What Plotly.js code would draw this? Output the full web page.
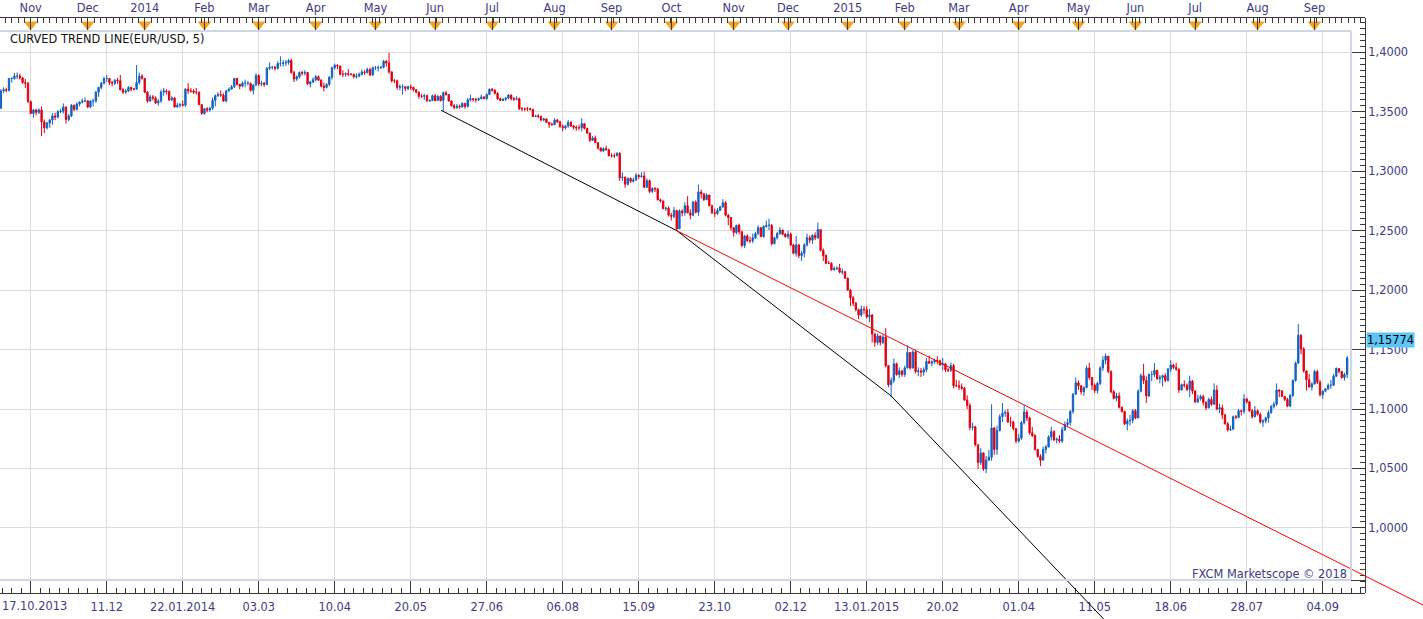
<!DOCTYPE html>
<html><head><meta charset="utf-8">
<script src="https://cdn.plot.ly/plotly-3.0.1.min.js"></script>
<style>html,body{margin:0;padding:0;background:#fff;}#chart{width:1423px;height:619px;}</style>
</head><body><div id="chart"></div>
<script>
// ---------------- DATA (daily EUR/USD, prices in pips above 1.0000: 3675 = 1.3675) -------------
const openP = [
 3530,3675,3685,3680,3780,3780,3800,3800,3785,3745,3740,
 3585,3485,3515,3495,3515,3415,3365,3405,3430,3465,3455,3500,3505,3540,3435,3465,3555,3520,3565,3580,3590,
 3590,3540,3590,3590,3665,3705,3740,3780,3780,3745,3740,3765,3760,3685,3665,3675,3705,3690,3690,3745,3800,
 3780,3665,3590,3625,3615,3575,3590,3665,3675,3670,3600,3615,3540,3555,3560,3555,3690,3675,3675,3665,3665,3560,
 3485,3525,3515,3530,3595,3635,3645,3640,3590,3675,3690,3710,3780,3730,3715,3740,3740,3740,3680,3725,
 3805,3735,3740,3730,3865,3875,3875,3865,3905,3905,3910,3915,3930,3830,3775,3795,3830,3825,3830,3735,3750,
 3770,3795,3765,3715,3705,3730,3790,3870,3890,3885,3815,3815,3820,3815,3815,3795,3800,3815,3835,3830,3855,3810,
 3870,3870,3870,3875,3925,3910,3835,3760,3760,3705,3710,3710,3695,3710,3705,3685,3665,3630,3630,3635,3590,3595,
 3635,3595,3630,3595,3660,3645,3590,3550,3535,3545,3540,3570,3545,3600,3610,3605,3600,3610,3625,3610,3645,
 3690,3680,3655,3610,3595,3605,3615,3640,3610,3605,3610,3525,3525,3525,3525,3520,3460,3465,3460,3430,3440,3410,3395,
 3390,3430,3415,3375,3365,3380,3410,3380,3370,3365,3365,3400,3360,3320,3260,3280,3240,3195,3170,3190,3180,
 3130,3130,3130,3150,2945,2950,2890,2940,2915,2925,2965,2955,2960,2865,2920,2830,2855,2850,2760,2750,2685,2690,
 2630,2620,2670,2515,2665,2650,2710,2650,2630,2740,2655,2825,2810,2760,2800,2710,2650,2645,2670,2700,2735,2630,2610,
 2525,2485,2545,2490,2375,2455,2415,2415,2440,2475,2525,2450,2535,2545,2545,2390,2440,2475,2505,2470,
 2450,2470,2380,2310,2380,2290,2310,2380,2440,2420,2460,2440,2510,2335,2290,2225,2225,2170,2180,2185,2150,2155,
 2100,2000,1935,1890,1835,1790,1840,1835,1775,1790,1630,1560,1615,1560,1605,1365,1205,1240,1380,1290,1320,
 1290,1345,1475,1345,1480,1315,1320,1310,1330,1400,1385,1395,1410,1405,1370,1380,1330,1325,1365,1195,
 1195,1185,1175,1075,1030,845,850,700,550,630,495,570,595,840,660,820,935,965,970,890,890,835,
 730,755,885,975,925,800,775,660,600,570,660,680,765,810,740,745,730,825,870,885,980,1125,
 1220,1195,1145,1180,1345,1265,1200,1155,1215,1345,1410,1445,1315,1145,1090,1110,1015,980,875,900,905,
 985,925,1150,1280,1240,1110,1290,1290,1325,1255,1265,1280,1240,1335,1370,1350,1335,1160,1205,1200,1165,1235,
 1150,1060,1085,1105,1055,1010,1080,1040,1160,1000,1010,950,875,825,830,935,930,985,980,1085,1060,985,935,
 985,955,890,900,925,970,1020,1040,1160,1150,1105,1080,1025,1115,1240,1385,1620,1505,1320,1245,1185,
 1210,1315,1225,1120,1150,1170,1200,1200,1275,1340,1315,1265,1290
];
const highP = [
 3690,3705,3700,3785,3790,3825,3830,3820,3790,3775,3750,
 3595,3525,3525,3530,3545,3435,3415,3440,3490,3490,3515,3525,3570,3545,3480,3565,3560,3580,3590,3610,3620,
 3600,3595,3610,3675,3710,3750,3795,3810,3785,3760,3775,3785,3810,3700,3690,3715,3705,3700,3893,3830,3815,
 3785,3675,3645,3640,3630,3605,3685,3700,3690,3680,3630,3625,3575,3575,3595,3700,3740,3700,3690,3700,3670,3565,
 3530,3540,3540,3620,3645,3665,3680,3655,3685,3705,3725,3785,3785,3735,3755,3770,3760,3745,3730,3825,
 3815,3760,3750,3875,3915,3885,3885,3925,3966,3935,3935,3945,3945,3845,3805,3840,3845,3850,3835,3760,3790,
 3810,3805,3775,3745,3740,3800,3880,3905,3900,3885,3850,3830,3860,3825,3820,3825,3830,3855,3850,3870,3870,3880,
 3885,3890,3885,3935,3935,3995,3840,3775,3770,3730,3730,3710,3720,3730,3710,3690,3670,3650,3650,3645,3605,3645,
 3650,3640,3640,3670,3675,3645,3595,3565,3565,3560,3580,3575,3615,3645,3615,3615,3620,3645,3630,3655,3695,
 3700,3690,3665,3620,3615,3625,3650,3645,3625,3630,3620,3540,3535,3540,3535,3525,3475,3480,3470,3450,3445,3415,3410,
 3445,3440,3425,3395,3390,3430,3420,3390,3385,3390,3445,3405,3365,3325,3295,3300,3245,3200,3200,3215,3190,
 3150,3150,3160,3160,2990,2955,2945,2945,2945,2985,2975,2990,2995,2940,2930,2865,2865,2860,2770,2750,2700,2705,
 2650,2700,2675,2680,2680,2740,2790,2680,2750,2755,2887,2845,2815,2815,2800,2720,2685,2690,2710,2765,2750,2640,2615,
 2530,2550,2560,2500,2465,2470,2450,2475,2490,2545,2530,2545,2585,2600,2555,2450,2490,2530,2510,2480,
 2500,2485,2390,2455,2390,2330,2395,2475,2460,2470,2485,2570,2510,2350,2300,2245,2235,2200,2200,2220,2180,2160,
 2105,2010,1950,1900,1845,1870,1865,1865,1840,1800,1640,1635,1615,1625,1680,1365,1265,1425,1390,1350,1330,
 1365,1535,1480,1495,1500,1350,1345,1350,1430,1450,1410,1425,1445,1415,1430,1385,1345,1390,1380,1245,
 1240,1215,1185,1115,1050,885,860,700,670,635,605,655,1040,850,860,955,1050,990,1000,935,900,840,
 790,900,1035,990,935,850,790,665,620,685,700,780,850,820,760,780,850,895,920,990,1135,1265,
 1240,1200,1190,1365,1390,1270,1215,1230,1360,1445,1467,1445,1325,1160,1135,1140,1020,985,920,950,1000,
 1000,1165,1300,1380,1275,1300,1320,1385,1330,1285,1290,1300,1345,1410,1380,1390,1340,1215,1240,1215,1280,1245,
 1160,1120,1120,1120,1065,1095,1105,1215,1200,1045,1035,960,890,860,945,950,1000,995,1125,1095,1070,1000,1025,
 995,970,915,935,990,1035,1060,1215,1165,1160,1110,1095,1125,1250,1400,1714,1630,1520,1325,1295,1225,
 1330,1330,1245,1155,1175,1215,1245,1295,1350,1345,1320,1305,1445
];
const lowP = [
 3525,3660,3665,3670,3745,3770,3775,3770,3735,3700,3575,
 3480,3450,3470,3480,3295,3320,3350,3365,3390,3430,3445,3490,3485,3400,3420,3455,3505,3510,3545,3570,3580,
 3530,3530,3545,3575,3625,3690,3730,3750,3725,3715,3725,3735,3680,3650,3650,3665,3670,3680,3685,3730,3770,
 3655,3575,3585,3595,3565,3550,3575,3635,3645,3590,3590,3535,3535,3535,3545,3540,3650,3660,3650,3645,3555,3475,
 3475,3495,3500,3515,3545,3625,3625,3585,3580,3670,3690,3700,3720,3690,3705,3705,3720,3670,3645,3715,
 3715,3715,3710,3725,3850,3855,3845,3855,3880,3880,3885,3895,3820,3750,3760,3780,3805,3805,3725,3705,3740,
 3755,3760,3705,3670,3695,3715,3770,3855,3860,3805,3790,3795,3800,3805,3780,3780,3790,3805,3810,3820,3800,3800,
 3850,3840,3860,3865,3880,3820,3745,3740,3685,3680,3645,3675,3680,3685,3670,3655,3610,3615,3600,3585,3585,3590,
 3585,3590,3585,3503,3635,3585,3545,3520,3525,3525,3535,3525,3535,3585,3585,3580,3590,3605,3605,3600,3640,
 3670,3645,3600,3590,3590,3590,3605,3595,3590,3595,3515,3505,3505,3505,3510,3455,3455,3445,3420,3420,3405,3365,3385,
 3390,3405,3365,3335,3350,3365,3370,3350,3340,3345,3335,3350,3315,3245,3255,3240,3180,3165,3160,3175,3125,
 3115,3110,3125,2920,2920,2860,2880,2900,2905,2920,2935,2945,2860,2860,2815,2815,2825,2755,2735,2680,2665,2620,
 2585,2605,2500,2515,2620,2625,2645,2595,2620,2645,2625,2770,2750,2760,2705,2640,2615,2630,2665,2690,2620,2545,2500,
 2450,2470,2470,2360,2355,2405,2395,2395,2430,2465,2445,2440,2525,2505,2375,2385,2425,2465,2460,2440,
 2430,2370,2300,2280,2270,2245,2275,2365,2395,2390,2420,2430,2325,2245,2220,2220,2165,2165,2170,2140,2130,2095,
 1995,1865,1865,1820,1755,1775,1800,1760,1730,1560,1525,1540,1535,1545,1350,1185,1098,1220,1280,1260,1270,
 1270,1340,1330,1340,1300,1275,1270,1280,1310,1380,1360,1380,1375,1365,1325,1310,1310,1310,1175,1185,
 1160,1160,1070,1000,820,820,685,495,530,480,460,565,565,615,615,810,890,935,885,850,820,710,
 715,740,870,900,785,765,650,590,520,570,625,680,735,730,710,715,715,815,850,860,960,1120,
 1160,1120,1110,1175,1245,1160,1135,1130,1200,1320,1375,1300,1130,1080,1065,1005,970,865,820,860,880,
 915,920,1140,1210,1050,1100,1235,1270,1245,1215,1190,1225,1230,1310,1335,1320,1135,1155,1180,1150,1100,1125,
 1050,1050,1070,1030,990,1005,1025,1035,990,965,915,870,810,815,825,915,920,945,960,1045,975,920,930,
 945,880,850,880,885,960,1005,1025,1100,1100,1065,1015,1015,1100,1230,1385,1460,1305,1155,1180,1155,
 1205,1210,1105,1085,1140,1160,1170,1195,1270,1300,1255,1240,1260
];
const closeP = [
 3675,3685,3680,3780,3780,3800,3800,3785,3745,3740,3585,
 3485,3515,3495,3515,3415,3365,3405,3430,3465,3455,3500,3505,3540,3435,3465,3555,3520,3565,3580,3590,3590,
 3540,3590,3590,3665,3705,3740,3780,3780,3745,3740,3765,3760,3685,3665,3675,3705,3690,3690,3745,3800,3780,
 3665,3590,3625,3615,3575,3590,3665,3675,3670,3600,3615,3540,3555,3560,3555,3690,3675,3675,3665,3665,3560,3485,
 3525,3515,3530,3595,3635,3645,3640,3590,3675,3690,3710,3780,3730,3715,3740,3740,3740,3680,3725,3805,
 3735,3740,3730,3865,3875,3875,3865,3905,3905,3910,3915,3930,3830,3775,3795,3830,3825,3830,3735,3750,3770,
 3795,3765,3715,3705,3730,3790,3870,3890,3885,3815,3815,3820,3815,3815,3795,3800,3815,3835,3830,3855,3810,3870,
 3870,3870,3875,3925,3910,3835,3760,3760,3705,3710,3710,3695,3710,3705,3685,3665,3630,3630,3635,3590,3595,3635,
 3595,3630,3595,3660,3645,3590,3550,3535,3545,3540,3570,3545,3600,3610,3605,3600,3610,3625,3610,3645,3690,
 3680,3655,3610,3595,3605,3615,3640,3610,3605,3610,3525,3525,3525,3525,3520,3460,3465,3460,3430,3440,3410,3395,3390,
 3430,3415,3375,3365,3380,3410,3380,3370,3365,3365,3400,3360,3320,3260,3280,3240,3195,3170,3190,3180,3130,
 3130,3130,3150,2945,2950,2890,2940,2915,2925,2965,2955,2960,2865,2920,2830,2855,2850,2760,2750,2685,2690,2630,
 2620,2670,2515,2665,2650,2710,2650,2630,2740,2655,2825,2810,2760,2800,2710,2650,2645,2670,2700,2735,2630,2610,2525,
 2485,2545,2490,2375,2455,2415,2415,2440,2475,2525,2450,2535,2545,2545,2390,2440,2475,2505,2470,2450,
 2470,2380,2310,2380,2290,2310,2380,2440,2420,2460,2440,2510,2335,2290,2225,2225,2170,2180,2185,2150,2155,2100,
 2000,1935,1890,1835,1790,1840,1835,1775,1790,1630,1560,1615,1560,1605,1365,1205,1240,1380,1290,1320,1290,
 1345,1475,1345,1480,1315,1320,1310,1330,1400,1385,1395,1410,1405,1370,1380,1330,1325,1365,1195,1195,
 1185,1175,1075,1030,845,850,700,550,630,495,570,595,840,660,820,935,965,970,890,890,835,730,
 755,885,975,925,800,775,660,600,570,660,680,765,810,740,745,730,825,870,885,980,1125,1220,
 1195,1145,1180,1345,1265,1200,1155,1215,1345,1410,1445,1315,1145,1090,1110,1015,980,875,900,905,985,
 925,1150,1280,1240,1110,1290,1290,1325,1255,1265,1280,1240,1335,1370,1350,1335,1160,1205,1200,1165,1235,1150,
 1060,1085,1105,1055,1010,1080,1040,1160,1000,1010,950,875,825,830,935,930,985,980,1085,1060,985,935,985,
 955,890,900,925,970,1020,1040,1160,1150,1105,1080,1025,1115,1240,1385,1620,1505,1320,1245,1185,1210,
 1315,1225,1120,1150,1170,1200,1200,1275,1340,1315,1265,1290,1430
];
// first bar date; trading days skip weekends and these holidays
const START_DATE = '2013-10-17';
const HOLIDAYS = ['12-25', '01-01'];
// bottom axis labels (grid every 28 bars); the first grid label shows the chart's first date
const gridDates = ['2013-11-01','2013-12-11','2014-01-22','2014-03-03','2014-04-10','2014-05-20','2014-06-27','2014-08-06','2014-09-15','2014-10-23','2014-12-02','2015-01-13','2015-02-20','2015-04-01','2015-05-11','2015-06-18','2015-07-28','2015-09-04'];
const gridText  = ['17.10.2013','11.12','22.01.2014','03.03','10.04','20.05','27.06','06.08','15.09','23.10','02.12','13.01.2015','20.02','01.04','11.05','18.06','28.07','04.09'];
const monthNames = ['Jan','Feb','Mar','Apr','May','Jun','Jul','Aug','Sep','Oct','Nov','Dec'];
const priceTicks = [1.00,1.05,1.10,1.15,1.20,1.25,1.30,1.35,1.40];
// curved trend line (bar index, price) and red trend line
const blackTrendBar   = [162.2, 249, 328, 412];
const blackTrendPrice = [1.3512, 1.2500, 1.1110, 0.9097];
const redTrendBar     = [249, 530];
const redTrendPrice   = [1.2500, 0.9282];
const lastPrice = 1.15774;
const titleText = 'CURVED TREND LINE(EUR/USD, 5)';
const creditText = 'FXCM Marketscope \u00a9 2018';

// ---------------- BUILD -------------
const toPrice = v => 1 + v / 10000;
const N = closeP.length;
const dates = [];
{ let d = new Date(START_DATE + 'T00:00:00Z');
  while (dates.length < N) {
    const dow = d.getUTCDay(), iso = d.toISOString().slice(0, 10);
    if (dow !== 0 && dow !== 6 && !HOLIDAYS.includes(iso.slice(5))) dates.push(iso);
    d.setUTCDate(d.getUTCDate() + 1);
  } }
const idx = dates.map((_, i) => i);
const monthIdx = [], monthText = [];
dates.forEach((s, i) => {
  if (i > 0 && s.slice(5, 7) !== dates[i - 1].slice(5, 7)) {
    const m = +s.slice(5, 7);
    monthIdx.push(i);
    monthText.push(m === 1 ? s.slice(0, 4) : monthNames[m - 1]);
  }
});
const gridIdx = gridDates.map(s => dates.indexOf(s));
// the first label is drawn left-aligned at the chart's left edge (as in the reference)
const axisText = gridText.map((t, i) => i === 0 ? '' : t);

// geometry (pixels of the 1423x619 picture)
const W = 1423, H = 619;
const PX_PER_BAR = 2.7143, BAR0_PX = 0.86, PX_PER_UNIT = 1189, Y140_PX = 52.3;
const PLOT_R = 1351, PLOT_T = 31, PLOT_B = 580, AXIS_R = 1365, TOP_T = 18, BOT_T = 581, BOT_B = 593;
const barAt = px => (px - BAR0_PX) / PX_PER_BAR;
const priceAt = py => 1.40 - (py - Y140_PX) / PX_PER_UNIT;
const fx = px => px / W, fy = py => (H - py) / H;

const BLUE = '#1262c4', RED = '#e00010', NAVY = '#3e3a86', AXIS = '#3a3a3a', GRID = '#dedede', PANEL = '#cdd6e2';
const FONT = '"DejaVu Sans", Verdana, sans-serif';
const FS = 11.4;

const traces = [
  { type: 'candlestick', x: idx, open: openP.map(toPrice), high: highP.map(toPrice), low: lowP.map(toPrice), close: closeP.map(toPrice),
    xaxis: 'x', yaxis: 'y', whiskerwidth: 0, hoverinfo: 'skip',
    increasing: { line: { color: BLUE, width: 1 }, fillcolor: BLUE },
    decreasing: { line: { color: RED, width: 1 }, fillcolor: RED } },
  { type: 'scatter', mode: 'markers', x: monthIdx, y: monthIdx.map(() => 0.5), xaxis: 'x2', yaxis: 'y3', cliponaxis: false,
    marker: { symbol: 'triangle-down', size: 12, color: '#f7a21c', line: { width: 0 } }, hoverinfo: 'skip' },
  { type: 'scatter', mode: 'markers', x: [null], y: [null], xaxis: 'x3', yaxis: 'y5', hoverinfo: 'skip' },
  { type: 'scatter', mode: 'markers', x: [null], y: [null], xaxis: 'x3', yaxis: 'y2', hoverinfo: 'skip' },
  { type: 'scatter', mode: 'lines', x: blackTrendBar, y: blackTrendPrice, xaxis: 'x4', yaxis: 'y4',
    line: { color: '#000000', width: 1 }, hoverinfo: 'skip' },
  { type: 'scatter', mode: 'lines', x: redTrendBar, y: redTrendPrice, xaxis: 'x4', yaxis: 'y4',
    line: { color: '#ff0000', width: 1 }, hoverinfo: 'skip' }
];

const bandRange = [barAt(0), barAt(AXIS_R)];
const panelLine = { color: PANEL, width: 2 };
const layout = {
  width: W, height: H, margin: { l: 0, r: 0, t: 0, b: 0, pad: 0 },
  paper_bgcolor: '#ffffff', plot_bgcolor: 'rgba(0,0,0,0)', showlegend: false, separators: ', ',
  font: { family: FONT, size: FS, color: NAVY },
  xaxis: { domain: [0, fx(PLOT_R)], range: [barAt(0), barAt(PLOT_R)], anchor: 'y', tickmode: 'array', tickvals: gridIdx,
    showgrid: true, gridcolor: GRID, gridwidth: 1, showticklabels: false, ticks: '', zeroline: false, showline: false,
    rangeslider: { visible: false }, fixedrange: true },
  yaxis: { domain: [fy(PLOT_B), fy(PLOT_T)], range: [priceAt(PLOT_B), priceAt(PLOT_T)], anchor: 'x', tickmode: 'array', tickvals: priceTicks,
    showgrid: true, gridcolor: GRID, gridwidth: 1, showticklabels: false, ticks: '', zeroline: false, showline: false, fixedrange: true },
  xaxis2: { domain: [0, fx(AXIS_R)], range: bandRange, anchor: 'y3', side: 'top', showline: true, linecolor: AXIS, linewidth: 1,
    ticks: 'inside', ticklen: 13, tickcolor: AXIS, tickwidth: 1, tickmode: 'array', tickvals: monthIdx, ticktext: monthText,
    tickfont: { family: FONT, size: FS, color: NAVY }, showgrid: false, zeroline: false, ticklabeloverflow: 'allow',
    minor: { ticks: 'inside', ticklen: 5, tickcolor: AXIS, tickmode: 'linear', tick0: monthIdx[0], dtick: 21 / 9, showgrid: false } },
  yaxis3: { domain: [fy(PLOT_T), fy(TOP_T)], range: [0, 1], anchor: 'x2', visible: false, fixedrange: true },
  xaxis3: { domain: [0, fx(AXIS_R)], range: bandRange, anchor: 'y5', side: 'bottom', showline: true, mirror: true, linecolor: AXIS, linewidth: 1,
    ticks: 'inside', ticklen: 12, tickcolor: AXIS, tickwidth: 1, tickmode: 'array', tickvals: gridIdx, ticktext: axisText,
    tickfont: { family: FONT, size: FS, color: NAVY }, showgrid: false, zeroline: false, ticklabeloverflow: 'allow', ticklabelstandoff: 3,
    minor: { ticks: 'inside', ticklen: 5, tickcolor: AXIS, tickmode: 'linear', tick0: gridIdx[0], dtick: 3.5, showgrid: false } },
  yaxis5: { domain: [fy(BOT_B), fy(BOT_T)], range: [0, 1], anchor: 'x3', visible: false, fixedrange: true },
  yaxis2: { domain: [fy(BOT_B), fy(TOP_T)], range: [priceAt(BOT_B), priceAt(TOP_T)], anchor: 'free', position: fx(AXIS_R), side: 'right',
    showline: true, linecolor: AXIS, linewidth: 1, ticks: 'inside', ticklen: 14, tickcolor: AXIS, tickwidth: 1,
    tickmode: 'array', tickvals: priceTicks, tickformat: '.4f', tickfont: { family: FONT, size: FS, color: NAVY },
    showgrid: false, zeroline: false, ticklabeloverflow: 'allow',
    minor: { ticks: 'inside', ticklen: 5, tickcolor: AXIS, tickmode: 'linear', tick0: 0.95, dtick: 0.005, showgrid: false } },
  xaxis4: { domain: [0, 1], range: [barAt(0), barAt(W)], anchor: 'y4', visible: false, fixedrange: true },
  yaxis4: { domain: [0, 1], range: [priceAt(H), priceAt(0)], anchor: 'x4', visible: false, fixedrange: true },
  shapes: [
    { type: 'line', xref: 'paper', yref: 'paper', x0: 0, x1: fx(PLOT_R), y0: fy(PLOT_T), y1: fy(PLOT_T), line: panelLine },
    { type: 'line', xref: 'paper', yref: 'paper', x0: fx(PLOT_R), x1: fx(PLOT_R), y0: fy(PLOT_B), y1: fy(PLOT_T), line: panelLine },
    { type: 'line', xref: 'paper', yref: 'paper', x0: 0, x1: fx(PLOT_R), y0: fy(PLOT_B), y1: fy(PLOT_B), line: panelLine }
  ],
  annotations: [
    { xref: 'paper', yref: 'paper', x: fx(8), y: fy(39), xanchor: 'left', yanchor: 'middle', showarrow: false,
      text: titleText, font: { family: FONT, size: FS, color: '#111111' } },
    { xref: 'paper', yref: 'paper', x: fx(1349), y: fy(574), xanchor: 'right', yanchor: 'middle', showarrow: false,
      text: creditText, font: { family: FONT, size: FS, color: NAVY } },
    { xref: 'paper', yref: 'paper', x: fx(1), y: fy(606), xanchor: 'left', yanchor: 'middle', showarrow: false,
      text: gridText[0], font: { family: FONT, size: FS, color: NAVY }, borderpad: 0 },
    { xref: 'paper', yref: 'y2', x: fx(1366), y: lastPrice, xanchor: 'left', yanchor: 'middle', showarrow: false,
      text: lastPrice.toFixed(5).replace('.', ','), bgcolor: '#5cc6f7', borderpad: 0, font: { family: FONT, size: FS, color: '#000000' } }
  ]
};

Plotly.newPlot('chart', traces, layout, { staticPlot: true, displayModeBar: false });
</script>
</body></html>
